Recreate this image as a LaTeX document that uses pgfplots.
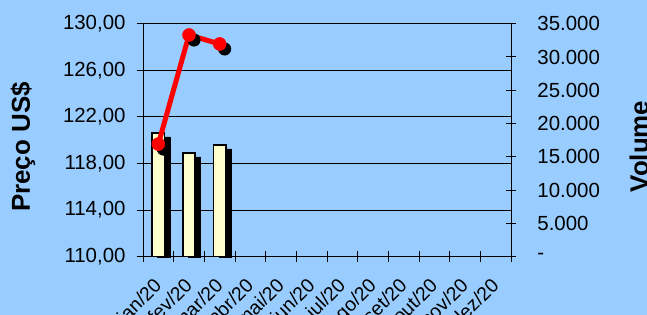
\documentclass[border=0pt]{standalone}
\usepackage{pgfplots}
\pgfplotsset{compat=1.18}
\usepackage{fontspec}
\setmainfont{Liberation Sans}
\definecolor{bg}{RGB}{153,204,255}
\definecolor{barfill}{RGB}{255,255,204}
\begin{document}
\begin{tikzpicture}
\useasboundingbox (0,0) rectangle (647bp,315bp);
\clip (0,0) rectangle (647bp,315bp);
\fill[bg] (0,0) rectangle (647bp,315bp);
\pgfplotsset{base/.style={at={(143bp,58.3bp)}, anchor=south west, width=368bp, height=233bp, scale only axis, xmin=0.5, xmax=12.5, clip=false}}
% axis 1: left price axis with grid and month labels
\begin{axis}[base, ymin=110, ymax=130,
  ytick={110,114,...,130},
  yticklabels={{110,00},{114,00},{118,00},{122,00},{126,00},{130,00}},
  axis x line*=bottom, axis y line*=left,
  ymajorgrids, grid style={black, line width=0.9bp},
  axis line style={black, line width=1bp, -},
  y tick style={black, line width=1bp},
  ytick align=outside, major tick length=6.3bp,
  yticklabel style={font=\fontsize{20.5}{24}\selectfont, inner sep=0pt, xshift=-11bp},
  xtick={1,...,12},
  xticklabels={jan/20,fev/20,mar/20,abr/20,mai/20,jun/20,jul/20,ago/20,set/20,out/20,nov/20,dez/20},
  x tick style={draw=none},
  xticklabel style={font=\fontsize{19.5}{23}\selectfont, rotate=45, anchor=north east, inner sep=0pt, xshift=-18bp, yshift=-10bp}]
\addplot[draw=none] coordinates {(1,110)};
\end{axis}
% axis 2: right volume axis with bars
\begin{axis}[base, ymin=0, ymax=35000,
  axis y line*=right, axis x line*=bottom,
  axis line style={black, line width=1bp, -},
  tick style={black, line width=1bp},
  tick align=center, major tick length=10.5bp,
  xtick={0.5,1.5,...,12.5}, xticklabels={},
  ytick={0,5000,...,35000}, scaled y ticks=false,
  yticklabels={-,5.000,10.000,15.000,20.000,25.000,30.000,35.000},
  yticklabel style={font=\fontsize{20.5}{24}\selectfont, inner sep=0pt, xshift=21bp}]
\addplot[ybar, bar width=12.3bp, bar shift=5.5bp, fill=black, draw=black] coordinates {(1,18000)(2,15000)(3,16200)};
\addplot[ybar, bar width=12.3bp, bar shift=0bp, fill=barfill, draw=black, line width=1.5bp] coordinates {(1,18600)(2,15600)(3,16800)};
\end{axis}
% axis 3: price line
\begin{axis}[base, ymin=110, ymax=130, hide axis]
\addplot[only marks, mark=*, mark size=6.3bp, black, xshift=5bp, yshift=-5bp] coordinates {(1,119.67)(2,129.03)(3,128.26)};
\addplot[red, line width=5bp, mark=*, mark size=6.5bp, mark options={fill=red, draw=red, line width=0.5bp, solid}] coordinates {(1,119.67)(2,129.03)(3,128.26)};
\end{axis}
\node[rotate=90, font=\bfseries\fontsize{26}{30}\selectfont] at (23bp,168bp) {Preço US\$};
\node[rotate=90, font=\bfseries\fontsize{26}{30}\selectfont] at (639bp,168.5bp) {Volume};
\end{tikzpicture}
\end{document}
